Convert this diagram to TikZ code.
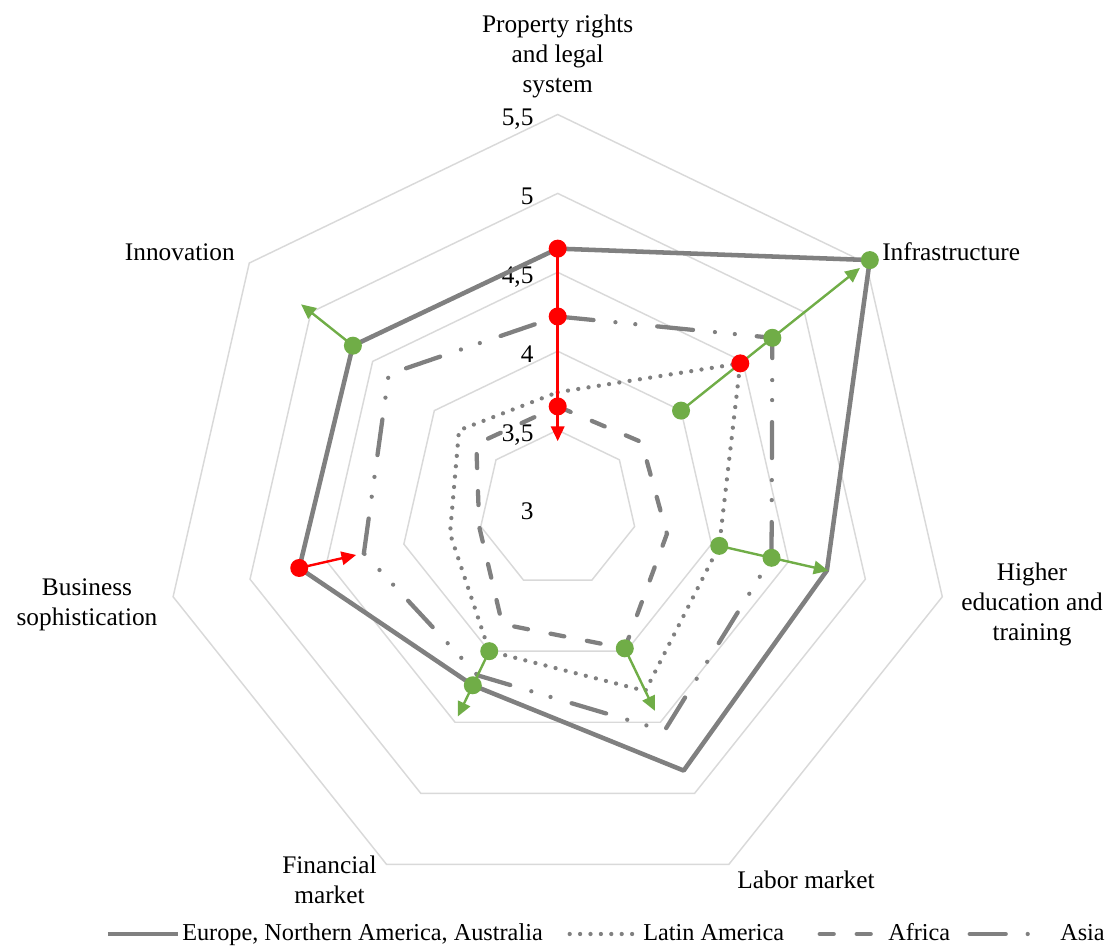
\documentclass[tikz,border=0pt]{standalone}
\usepackage{fontspec}
\setmainfont{Liberation Serif}
\usetikzlibrary{arrows.meta}
\definecolor{seriesgray}{RGB}{128,128,128}
\definecolor{gridgray}{RGB}{217,217,217}
\definecolor{arrowgreen}{RGB}{112,173,71}
\definecolor{arrowred}{RGB}{255,0,0}
\tikzset{
  ring/.style={draw=gridgray, line width=1.1pt},
  europe/.style={draw=seriesgray, line width=3.4pt, line join=round},
  latin/.style={draw=seriesgray, line width=3.2pt, line cap=round, dash pattern=on 0pt off 7.8pt},
  africa/.style={draw=seriesgray, line width=3.2pt, line cap=round, dash pattern=on 10.5pt off 17.25pt},
  asia/.style={draw=seriesgray, line width=3.2pt, line cap=round,
    dash pattern=on 27pt off 16.5pt on 0pt off 15pt on 0pt off 16.5pt},
  move/.style={line width=1.8pt, -{Triangle[length=11pt,width=10pt]}},
  lbl/.style={font=\fontsize{19}{22.5}\selectfont, inner sep=0pt, align=center},
  scalelbl/.style={font=\fontsize{19}{22.5}\selectfont, inner sep=0pt, anchor=base east},
  legtext/.style={font=\fontsize{18.2}{21}\selectfont, inner sep=0pt, anchor=base west},
}
\begin{document}
\begin{tikzpicture}[x=0.75pt,y=0.75pt]
  \useasboundingbox (-557.7,-439) rectangle (549.3,509);

  \foreach \r in {1,...,5}
    \draw[ring] (90:\r*78.9) \foreach \k in {1,...,6} {-- ({90-\k*360/7}:\r*78.9)} -- cycle;

  \foreach \t [count=\i from 0] in {3,{3,5},4,{4,5},5,{5,5}}
    \node[scalelbl] (tick\i) at (-24,\i*78.9-11) {\t};

  \foreach \v [count=\k from 0] in {4.65,5.53,4.75,4.84,4.24,4.68,4.66}
    \coordinate (eu\k) at ({90-\k*360/7}:{(\v-3)*157.8});
  \foreach \v [count=\k from 0] in {3.74,4.48,4.05,4.28,4.00,3.70,3.80}
    \coordinate (la\k) at ({90-\k*360/7}:{(\v-3)*157.8});
  \foreach \v [count=\k from 0] in {3.65,3.68,3.71,3.98,3.81,3.51,3.66}
    \coordinate (af\k) at ({90-\k*360/7}:{(\v-3)*157.8});
  \foreach \v [count=\k from 0] in {4.22,4.74,4.39,4.56,4.17,4.26,4.37}
    \coordinate (as\k) at ({90-\k*360/7}:{(\v-3)*157.8});
  \foreach \v [count=\k from 0] in {3.43,5.45,4.76,4.42,4.46,4.31,5.08}
    \coordinate (t\k) at ({90-\k*360/7}:{(\v-3)*157.8});
  \coordinate (p1) at ({90-360/7}:{(4.0-3)*157.8});

  \draw[latin] (la0) \foreach \k in {1,...,6} {-- (la\k)} -- cycle;
  \draw[africa] (af0) \foreach \k in {1,...,6} {-- (af\k)} -- cycle;
  \draw[asia] (as0) \foreach \k in {1,...,6} {-- (as\k)} -- cycle;
  \draw[europe] (eu0) \foreach \k in {1,...,6} {-- (eu\k)} -- cycle;

  \draw[move, arrowred] (eu0) to (t0);
  \draw[move, arrowgreen] (p1) to (t1);
  \draw[move, arrowgreen] (la2) to (t2);
  \draw[move, arrowgreen] (af3) to (t3);
  \draw[move, arrowgreen] (la4) to (t4);
  \draw[move, arrowred] (eu5) to (t5);
  \draw[move, arrowgreen] (eu6) to (t6);

  \foreach \p in {eu0,as0,af0,la1,eu5}
    \fill[arrowred] (\p) circle (9);
  \foreach \p in {p1,as1,eu1,la2,as2,af3,la4,eu4,eu6}
    \fill[arrowgreen] (\p) circle (9);

  \node[lbl] (prop) at (0,453) {Property rights\\and legal\\system};
  \node[lbl, anchor=base west] (infra) at (324.3,248) {Infrastructure};
  \node[lbl] (higher) at (474.3,-95) {Higher\\education and\\training};
  \node[lbl, anchor=base] (labor) at (248.3,-380) {Labor market};
  \node[lbl] (fin) at (-228.2,-370.5) {Financial\\market};
  \node[lbl] (bus) at (-470.7,-95.7) {Business\\sophistication};
  \node[lbl, anchor=base east] (innov) at (-322.7,248) {Innovation};

  \draw[europe] (-449.7,-425) -- (-379.7,-425);
  \node[legtext] (legeu) at (-375.7,-432) {Europe, Northern America, Australia};
  \draw[latin] (12,-425) -- (78,-425);
  \node[legtext] (legla) at (85.3,-432) {Latin America};
  \draw[africa] (262,-425) -- (322,-425);
  \node[legtext] (legaf) at (330.3,-432) {Africa};
  \draw[asia] (412,-425) -- (490,-425);
  \node[legtext] (legas) at (502.3,-432) {Asia};
\end{tikzpicture}
\end{document}
